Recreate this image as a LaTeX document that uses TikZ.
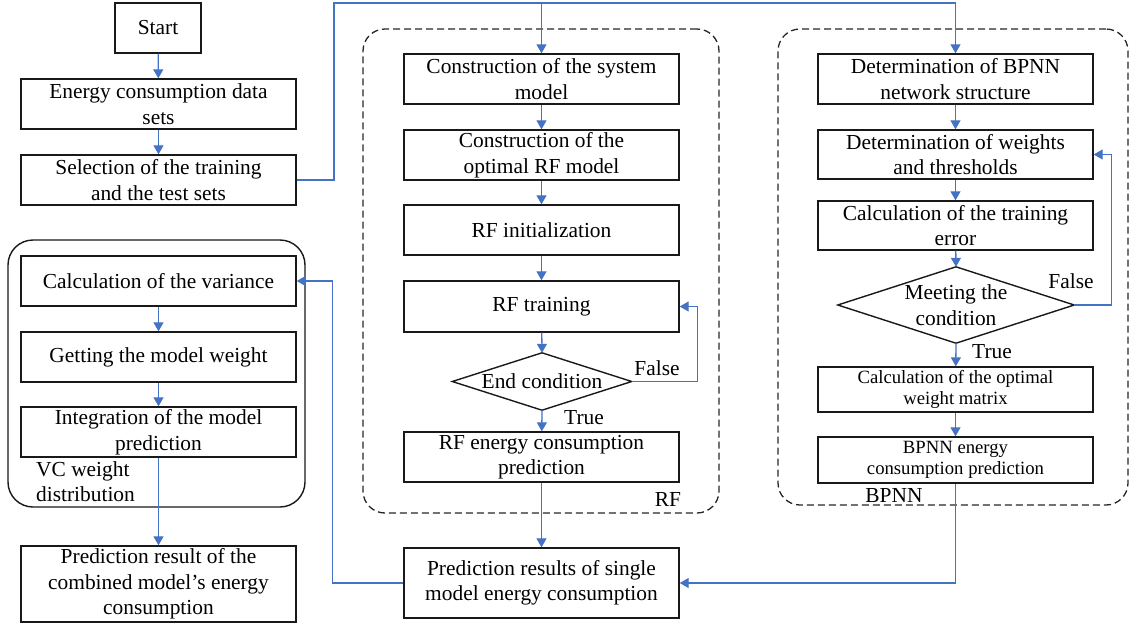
\documentclass[tikz,border=0pt]{standalone}
\usepackage{fontspec}
\setmainfont{Liberation Serif}
\usetikzlibrary{arrows.meta}
\definecolor{flowblue}{HTML}{4472C4}
\newcommand{\bigtxt}{\fontsize{21.4}{25.5}\selectfont}
\newcommand{\smalltxt}{\fontsize{18.7}{21.5}\selectfont}
\tikzset{
  box/.style={draw=black!90, line width=1.4pt, align=center, inner sep=0pt, font=\bigtxt, minimum width=275pt},
  sbox/.style={box, font=\smalltxt},
  dia/.style={inner sep=0pt, align=center, font=\bigtxt},
  conn/.style={draw=flowblue, line width=1.3pt, -{Triangle[width=10pt,length=9pt]}},
  group/.style={draw=black!85, line width=1.3pt, dash pattern=on 7pt off 4pt, rounded corners=22pt, inner sep=0pt},
  lbl/.style={font=\bigtxt, inner sep=0pt, align=left}
}
\begin{document}
\begin{tikzpicture}[x=1pt,y=-1pt]
\useasboundingbox (0,0) rectangle (1130,625);
% groups
\node[group, minimum width=356pt, minimum height=484pt] (rfgroup) at (541,271) {};
\node[group, minimum width=350pt, minimum height=476pt] (bpgroup) at (953,267) {};
\node[draw=black!90, line width=1.4pt, rounded corners=25pt, minimum width=297pt, minimum height=267pt, inner sep=0pt] (vcgroup) at (156.5,373.5) {};
% left column
\node[box, minimum width=86pt, minimum height=50pt] (start) at (158,28) {Start};
\node[box, minimum height=50pt] (ecd) at (158.5,104) {Energy consumption data\\sets};
\node[box, minimum height=50pt] (sel) at (158.5,180) {Selection of the training\\and the test sets};
\node[box, minimum height=50pt] (var) at (158.5,281) {Calculation of the variance};
\node[box, minimum height=50pt] (weight) at (158.5,357) {Getting the model weight};
\node[box, minimum height=50pt] (integ) at (158.5,432) {Integration of the model\\prediction};
\node[box, minimum height=76pt] (comb) at (158.5,584) {Prediction result of the\\combined model's energy\\consumption};
\node[lbl, anchor=north west] (vclbl) at (36,461) {VC weight\\distribution};
% RF column
\node[box, minimum height=50pt] (sys) at (541.5,79) {Construction of the system\\model};
\node[box, minimum height=50pt] (rfopt) at (541.5,155) {Construction of the\\optimal RF model};
\node[box, minimum height=50pt] (rfinit) at (541.5,230) {RF initialization};
\node[box, minimum height=51pt] (rftrain) at (541.5,306.5) {RF training};
\node[dia, minimum width=179pt, minimum height=57pt] (endc) at (542,381.5) {End condition};
\draw[line width=1.4pt, draw=black!90] (endc.west) -- (endc.north) -- (endc.east) -- (endc.south) -- cycle;
\node[box, minimum height=50pt] (rfpred) at (541.5,457) {RF energy consumption\\prediction};
\node[box, minimum height=70pt] (single) at (541.5,583) {Prediction results of single\\model energy consumption};
\node[lbl] (rflbl) at (668,499) {RF};
\node[lbl] (f1) at (657,368) {False};
\node[lbl] (t1) at (584,418) {True};
% BPNN column
\node[box, minimum height=50pt] (bp1) at (955.5,79) {Determination of BPNN\\network structure};
\node[box, minimum height=49pt] (bp2) at (955.5,154.5) {Determination of weights\\and thresholds};
\node[box, minimum height=49pt] (bp3) at (955.5,225.5) {Calculation of the training\\error};
\node[dia, minimum width=236pt, minimum height=76pt] (meet) at (956,305) {Meeting the\\condition};
\draw[line width=1.4pt, draw=black!90] (meet.west) -- (meet.north) -- (meet.east) -- (meet.south) -- cycle;
\node[sbox, minimum height=45pt] (bp4) at (955.5,389.5) {Calculation of the optimal\\weight matrix};
\node[sbox, minimum height=46pt] (bp5) at (955.5,460) {BPNN energy\\consumption prediction};
\node[lbl] (bplbl) at (894,496) {BPNN};
\node[lbl] (f2) at (1071,281) {False};
\node[lbl] (t2) at (992,352) {True};
% connectors
\coordinate (top) at (334,3);
\draw[conn] (start) -- (ecd);
\draw[conn] (ecd) -- (sel);
\draw[conn] (sel.east) -| (top) -| (bp1.north);
\draw[conn] (sys.north |- top) -- (sys.north);
\draw[conn] (sys) -- (rfopt);
\draw[conn] (rfopt) -- (rfinit);
\draw[conn] (rfinit) -- (rftrain);
\draw[conn] (rftrain) -- (endc.north);
\draw[conn] (endc.south) -- (rfpred);
\draw[conn] (endc.east) -- ++(66,0) |- (rftrain.east);
\draw[conn] (rfpred) -- (single);
\draw[conn] (single.west) -- ++(-71,0) |- (var.east);
\draw[conn] (bp1) -- (bp2);
\draw[conn] (bp2) -- (bp3);
\draw[conn] (bp3) -- (meet.north);
\draw[conn] (meet.south) -- (bp4);
\draw[conn] (bp4) -- (bp5);
\draw[conn] (meet.east) -- ++(37,0) |- (bp2.east);
\draw[conn] (bp5.south) |- (single.east);
\draw[conn] (var) -- (weight);
\draw[conn] (weight) -- (integ);
\draw[conn] (integ) -- (comb);
\end{tikzpicture}
\end{document}
